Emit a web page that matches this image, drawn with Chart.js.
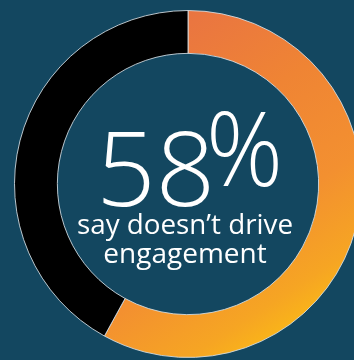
<!DOCTYPE html>
<html>
<head>
<meta charset="utf-8">
<script src="https://cdn.jsdelivr.net/npm/chart.js@4"></script>
<style>
  html, body { margin: 0; padding: 0; background: #134760; overflow: hidden; }
  #wrap { width: 376px; height: 360px; }
</style>
</head>
<body>
<div id="wrap"><canvas id="chart" width="376" height="360"></canvas></div>
<script>
const labels = ['say doesn’t drive engagement', 'other'];
const values = [58, 42];
const bigNumber = '58';
const bigSign = '%';
const captionLines = ['say doesn’t drive', 'engagement'];

// orange gradient for the main slice, laid across the ring
function orangeFill(chart) {
  const area = chart.chartArea;
  if (!area) return '#F08A30';
  const cx = (area.left + area.right) / 2, cy = (area.top + area.bottom) / 2;
  const r = Math.min(area.right - area.left, area.bottom - area.top) / 2;
  const dx = 0.55, dy = 0.83;
  const g = chart.ctx.createLinearGradient(cx - r * dx, cy - r * dy, cx + r * dx, cy + r * dy);
  g.addColorStop(0, '#E87140');
  g.addColorStop(0.12, '#EA7640');
  g.addColorStop(0.4, '#EF8434');
  g.addColorStop(0.7, '#F39030');
  g.addColorStop(0.92, '#F6A523');
  g.addColorStop(1, '#F9B31A');
  return g;
}

const centerText = {
  id: 'centerText',
  afterDraw(chart) {
    const c = chart.ctx;
    const a = chart.chartArea;
    const cx = (a.left + a.right) / 2;
    c.save();
    c.fillStyle = '#ffffff';
    c.textBaseline = 'alphabetic';
    c.font = '300 104px "Open Sans"';
    c.textAlign = 'right';
    c.fillText(bigNumber, cx + 27, 206, 122);
    c.textAlign = 'left';
    c.fillText(bigSign, cx + 18, 186, 77);
    c.textAlign = 'center';
    c.font = '400 28px "Open Sans"';
    c.fillText(captionLines[0], cx - 3, 234, 216);
    c.fillText(captionLines[1], cx - 3, 263, 166);
    c.restore();
  }
};

new Chart(document.getElementById('chart'), {
  type: 'doughnut',
  data: {
    labels: labels,
    datasets: [{
      data: values,
      backgroundColor: (ctx) => ctx.dataIndex === 0 ? orangeFill(ctx.chart) : '#000000',
      borderColor: 'rgba(215,225,230,0.85)',
      borderWidth: 1
    }]
  },
  options: {
    responsive: false,
    animation: false,
    cutout: '75.3%',
    layout: { padding: { left: 14, right: 14, top: 10, bottom: 2 } },
    plugins: { legend: { display: false }, tooltip: { enabled: false } }
  },
  plugins: [centerText]
});
</script>
</body>
</html>
